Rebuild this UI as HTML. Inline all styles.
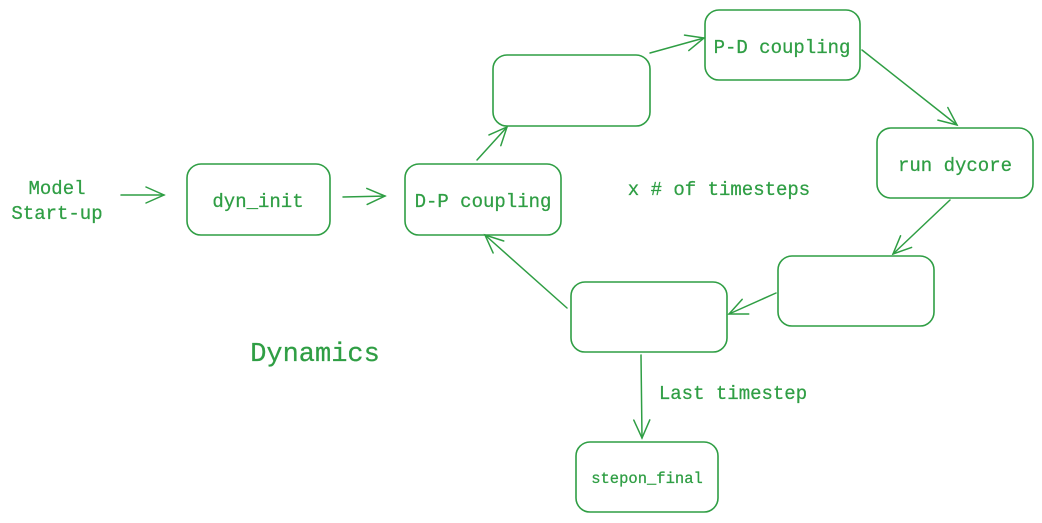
<!DOCTYPE html>
<html><head><meta charset="utf-8"><style>
html,body{margin:0;padding:0;background:#fff;}
svg{display:block}
text{font-family:"Liberation Mono",monospace;fill:#2f9e44;stroke:#2f9e44;stroke-width:0.25}
.b{fill:none;stroke:#2f9e44;stroke-width:1.6}
.a{fill:none;stroke:#2f9e44;stroke-width:1.5;stroke-linecap:round;stroke-linejoin:round}
</style></head><body>
<svg width="1042" height="523" viewBox="0 0 1042 523">
<defs>
<marker id="m" markerUnits="userSpaceOnUse" markerWidth="30" markerHeight="30" refX="20" refY="10" orient="auto" viewBox="0 0 30 30">
<path d="M2,2 L20,10 L2,18" fill="none" stroke="#2f9e44" stroke-width="1.5" stroke-linecap="round"/>
</marker>
</defs>
<rect class="b" x="187" y="164" width="143" height="71" rx="14"/>
<rect class="b" x="405" y="164" width="156" height="71" rx="14"/>
<rect class="b" x="493" y="55" width="157" height="71" rx="14"/>
<rect class="b" x="705" y="10" width="155" height="70" rx="14"/>
<rect class="b" x="877" y="128" width="156" height="70" rx="14"/>
<rect class="b" x="778" y="256" width="156" height="70" rx="14"/>
<rect class="b" x="571" y="282" width="156" height="70" rx="14"/>
<rect class="b" x="576" y="442" width="142" height="70" rx="14"/>

<line class="a" x1="121" y1="195" x2="164" y2="195" marker-end="url(#m)"/>
<line class="a" x1="343" y1="197" x2="385" y2="196" marker-end="url(#m)"/>
<line class="a" x1="477" y1="160" x2="507" y2="127" marker-end="url(#m)"/>
<line class="a" x1="650" y1="53" x2="704" y2="38" marker-end="url(#m)"/>
<line class="a" x1="862" y1="50" x2="957" y2="125" marker-end="url(#m)"/>
<line class="a" x1="950" y1="200" x2="893" y2="254" marker-end="url(#m)"/>
<line class="a" x1="776" y1="293" x2="729" y2="314" marker-end="url(#m)"/>
<line class="a" x1="567" y1="308" x2="485" y2="235" marker-end="url(#m)"/>
<line class="a" x1="641" y1="355" x2="642" y2="438" marker-end="url(#m)"/>

<text x="57" y="194" font-size="19" text-anchor="middle">Model</text>
<text x="57" y="219" font-size="19" text-anchor="middle">Start-up</text>
<text x="258" y="207" font-size="19" text-anchor="middle">dyn_init</text>
<text x="483" y="207" font-size="19" text-anchor="middle">D-P coupling</text>
<text x="782" y="53" font-size="19" text-anchor="middle">P-D coupling</text>
<text x="955" y="171" font-size="19" text-anchor="middle">run dycore</text>
<text x="719" y="195" font-size="19" text-anchor="middle">x # of timesteps</text>
<text x="733" y="399" font-size="19" text-anchor="middle">Last timestep</text>
<text x="315" y="361" font-size="27" text-anchor="middle">Dynamics</text>
<text x="647" y="483" font-size="15.5" text-anchor="middle">stepon_final</text>
</svg>
</body></html>
